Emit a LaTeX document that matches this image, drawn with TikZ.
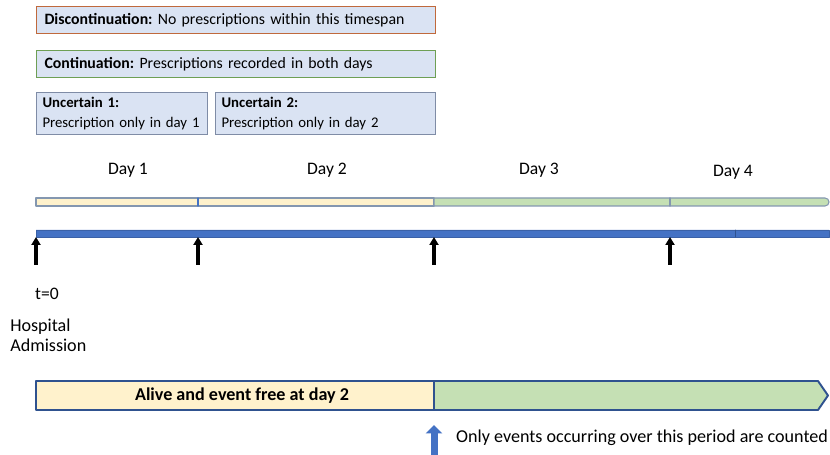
\documentclass[tikz,border=0pt]{standalone}
\usepackage{fontspec}
\setmainfont{Carlito}
\usepackage{tkz-euclide}
\usetikzlibrary{arrows.meta}
\frenchspacing

\definecolor{boxfill}{HTML}{DAE3F3}
\definecolor{discline}{HTML}{C0693C}
\definecolor{contline}{HTML}{6E9F55}
\definecolor{uncline}{HTML}{7F8CA6}
\definecolor{dayyellow}{HTML}{FFF2CC}
\definecolor{daygreen}{HTML}{C5E0B4}
\definecolor{barblue}{HTML}{4472C4}
\definecolor{darkblue}{HTML}{2F528F}
\definecolor{barline}{HTML}{8497B0}

\tikzset{
  infobox/.style={fill=boxfill, anchor=north west, align=left, line width=0.6pt,
    inner xsep=0.16cm, inner ysep=0pt, font=\fontsize{9}{11}\selectfont},
  uncbox/.style={infobox, draw=uncline, inner xsep=0.12cm, minimum height=0.84cm,
    font=\fontsize{8.4}{11.3}\selectfont},
  daylabel/.style={font=\fontsize{10}{12}\selectfont},
  dayarrow/.style={-{Triangle[length=0.16cm,width=0.18cm]}, line width=1.9pt},
}

\begin{document}
\begin{tikzpicture}
            \useasboundingbox (0,0) rectangle (16.6,9.1);
            \node[infobox, draw=discline, text width=7.66cm, minimum height=0.54cm] (disc) at (0.72,8.98)
              {\textbf{Discontinuation:} No prescriptions within this timespan};
            \node[infobox, draw=contline, text width=7.66cm, minimum height=0.54cm] (cont) at (0.72,8.10)
              {\textbf{Continuation:} Prescriptions recorded in both days};
            \node[uncbox, text width=3.18cm] (unca) at (0.72,7.26)
              {\textbf{Uncertain 1:}\\Prescription only in day 1};
            \node[uncbox, text width=4.16cm] (uncb) at (4.30,7.26)
              {\textbf{Uncertain 2:}\\Prescription only in day 2};
            \node[daylabel] (day1) at (2.56,5.70) {Day 1};
            \node[daylabel] (day2) at (6.54,5.70) {Day 2};
            \node[daylabel] (day3) at (10.78,5.70) {Day 3};
            \node[daylabel] (day4) at (14.66,5.66) {Day 4};
            \tkzDefPoint(0.72,4.98){Sa}
            \tkzDefPoint(0.72,5.14){Sb}
            \tkzDefPoint(3.96,4.98){Ta}
            \tkzDefPoint(3.96,5.14){Tb}
            \tkzDefPoint(8.68,4.98){Ua}
            \tkzDefPoint(8.68,5.14){Ub}
            \tkzDefPoint(13.40,4.98){Va}
            \tkzDefPoint(13.40,5.14){Vb}
            \tkzDefPoint(16.50,4.98){Wa}
            \tkzDefPoint(16.50,5.14){Wb}
            \tkzDrawPolygon[draw=barline, fill=dayyellow, line width=0.6pt](Sa,Ua,Ub,Sb)
            \draw[draw=barline, fill=daygreen, line width=0.6pt]
              (Ua) -- (Wa) arc[start angle=-90, end angle=90, radius=0.08cm] -- (Ub) -- cycle;
            \tkzDrawSegment[draw=barblue, line width=0.6pt](Ta,Tb)
            \tkzDrawSegment[draw=barline, line width=0.8pt](Va,Vb)
            \tkzDefPoint(0.72,4.36){Ka}
            \tkzDefPoint(3.96,4.36){Kb}
            \tkzDefPoint(8.68,4.36){Kc}
            \tkzDefPoint(13.40,4.36){Kd}
            \tkzDefPoint(16.58,4.36){Ke}
            \tkzDefPoint(16.58,4.50){Kf}
            \tkzDefPoint(0.72,4.50){Kg}
            \tkzDefPoint(14.70,4.36){Kh}
            \tkzDefPoint(14.70,4.50){Ki}
            \tkzDrawPolygon[draw=barblue!85!black, fill=barblue, line width=0.4pt](Ka,Ke,Kf,Kg)
            \tkzDrawSegment[draw=darkblue, line width=0.4pt](Kh,Ki)
            \tkzDefPoint(0.72,3.80){Ha}
            \tkzDefPoint(3.96,3.80){Hb}
            \tkzDefPoint(8.68,3.80){Hc}
            \tkzDefPoint(13.40,3.80){Hd}
            \draw[dayarrow] (Ha) -- (Ka);
            \draw[dayarrow] (Hb) -- (Kb);
            \draw[dayarrow] (Hc) -- (Kc);
            \draw[dayarrow] (Hd) -- (Kd);
            \node[daylabel] (tzero) at (0.94,3.22) {t=0};
            \node[daylabel, anchor=west, align=left, inner sep=0pt,
              font=\fontsize{10.3}{11.3}\selectfont] (admit) at (0.2,2.40) {Hospital\\Admission};
            \tkzDefPoint(0.72,0.90){Ea}
            \tkzDefPoint(8.68,0.90){Eb}
            \tkzDefPoint(16.36,0.90){Ec}
            \tkzDefPoint(16.56,1.19){Ed}
            \tkzDefPoint(16.36,1.48){Ee}
            \tkzDefPoint(8.68,1.48){Ef}
            \tkzDefPoint(0.72,1.48){Eg}
            \tkzDrawPolygon[draw=darkblue, fill=dayyellow, line width=1.1pt](Ea,Eb,Ef,Eg)
            \tkzDrawPolygon[draw=darkblue, fill=daygreen, line width=1.1pt](Eb,Ec,Ed,Ee,Ef)
            \node[font=\bfseries\fontsize{10.3}{12}\selectfont] (alive) at (4.84,1.19) {Alive and event free at day 2};
            \tkzDefPoint(8.68,0){Ga}
            \tkzDefPoint(8.68,0.60){Gb}
            \draw[barblue, line width=0.14cm, -{Triangle[length=0.17cm,width=0.32cm]}] (Ga) -- (Gb);
            \node[daylabel, anchor=west, font=\fontsize{10.3}{12}\selectfont] (note) at (9.0,0.34)
              {Only events occurring over this period are counted};
        \end{tikzpicture}
\end{document}
